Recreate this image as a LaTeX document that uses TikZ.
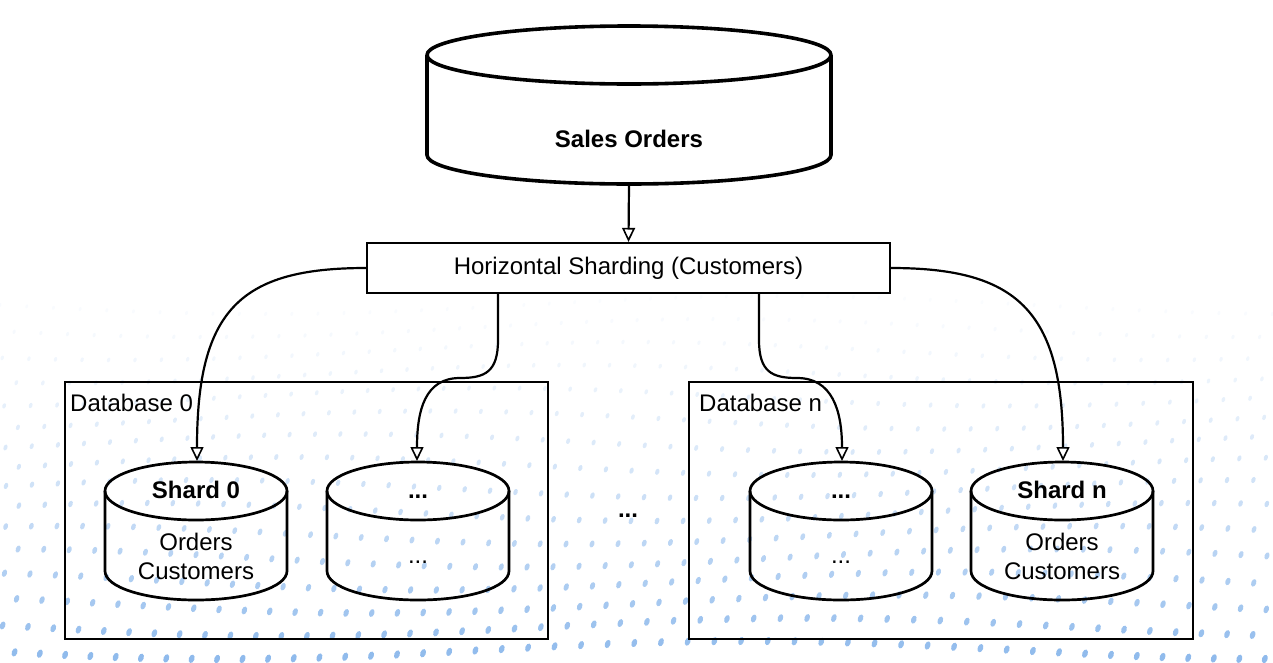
\documentclass[tikz,border=0pt]{standalone}
\usepackage{fontspec}
\setmainfont{Liberation Sans}
\usetikzlibrary{arrows.meta}
\definecolor{dotblue}{RGB}{120,172,232}

\begin{document}
\begin{tikzpicture}[x=1pt,y=-1pt,
  font=\fontsize{24}{29}\selectfont,
  box/.style={draw,line width=2.2pt,inner sep=0pt},
  cyl/.style={line width=2.7pt,line join=round},
  link/.style={line width=2.2pt,-{Triangle[open,length=14pt,width=13pt,line width=1.6pt]}},
  lbl/.style={anchor=base},
  bold/.style={font=\fontsize{24}{29}\selectfont\bfseries}]
\useasboundingbox (0,0) rectangle (1273,662);

% dotted backdrop
\begin{scope}
\clip (0,0) rectangle (1273,662);
\foreach \j in {0,...,15} {
  \foreach \i in {0,...,50} {
    \pgfmathsetmacro\px{26*\i+13*mod(\j,2)+6*sin(11*\j+7*\i)}
    \pgfmathsetmacro\py{305+23*\j+9*sin(9*\i+25*\j)}
    \pgfmathsetmacro\t{max(0,(\py-300)/362)}
    \pgfmathsetmacro\op{0.04+0.8*\t^1.4}
    \pgfmathsetmacro\rx{1.4+1.4*\t}
    \pgfmathsetmacro\ry{2.1+2.3*\t}
    \fill[dotblue,opacity=\op,rotate around={-20:(\px,\py)}] (\px,\py) ellipse [x radius=\rx, y radius=\ry];
  }
}
\end{scope}

% sales orders
\draw[cyl,line width=3.6pt] (629,55) ellipse [x radius=202, y radius=29];
\draw[cyl,line width=3.6pt] (427,55) -- (427,155) .. controls (427,171) and (517,184) .. (629,184)
  .. controls (741,184) and (831,171) .. (831,155) -- (831,55);
\node[lbl,bold] (sales) at (629,147) {Sales Orders};
\coordinate (salesbot) at (629,184);

\node[box,minimum width=523pt,minimum height=50pt] (hs) at (628.5,268) {Horizontal Sharding (Customers)};
\draw[link] (salesbot) -- (hs.north);

% databases
\node[box,minimum width=483pt,minimum height=257pt] (db0) at (306.5,510.5) {};
\node[anchor=base west,inner sep=0pt] (db0lbl) at (70,411) {Database 0};
\node[box,minimum width=504pt,minimum height=257pt] (dbn) at (941,510.5) {};
\node[anchor=base west,inner sep=0pt] (dbnlbl) at (699,411) {Database n};

% shards
\foreach \cx in {196,418,841,1062} {
  \draw[cyl] (\cx,491) ellipse [x radius=91, y radius=29];
  \draw[cyl] (\cx-91,491) -- (\cx-91,571) .. controls (\cx-91,587.5) and (\cx-50.2,600) .. (\cx,600)
    .. controls (\cx+50.2,600) and (\cx+91,587.5) .. (\cx+91,571) -- (\cx+91,491);
}
\node[lbl,bold] (s0) at (196,498) {Shard 0};
\node[lbl] (s0a) at (196,550) {Orders};
\node[lbl] (s0b) at (196,579) {Customers};
\node[lbl,bold] (s1) at (418,498) {...};
\node[lbl] (s1a) at (418,563) {...};
\node[lbl,bold] (s2) at (841,498) {...};
\node[lbl] (s2a) at (841,563) {...};
\node[lbl,bold] (s3) at (1062,498) {Shard n};
\node[lbl] (s3a) at (1062,550) {Orders};
\node[lbl] (s3b) at (1062,579) {Customers};
\node[lbl,bold] (gap) at (628,517) {...};

\coordinate (s0in) at (197,461);
\coordinate (s1in) at (417,461);
\coordinate (s2in) at (842,461);
\coordinate (s3in) at (1063,461);
\coordinate (hsl) at (498,293);
\coordinate (hsr) at (759,293);

\draw[link] (hs.west) .. controls (240,268) and (197,310) .. (s0in);
\draw[link] (hsl) -- (498,340) .. controls (498,372) and (485,378) .. (460,378)
  .. controls (425,378) and (417,410) .. (s1in);
\draw[link] (hsr) -- (759,340) .. controls (759,372) and (772,378) .. (797,378)
  .. controls (832,378) and (842,410) .. (s2in);
\draw[link] (hs.east) .. controls (1016,268) and (1063,310) .. (s3in);
\end{tikzpicture}
\end{document}
